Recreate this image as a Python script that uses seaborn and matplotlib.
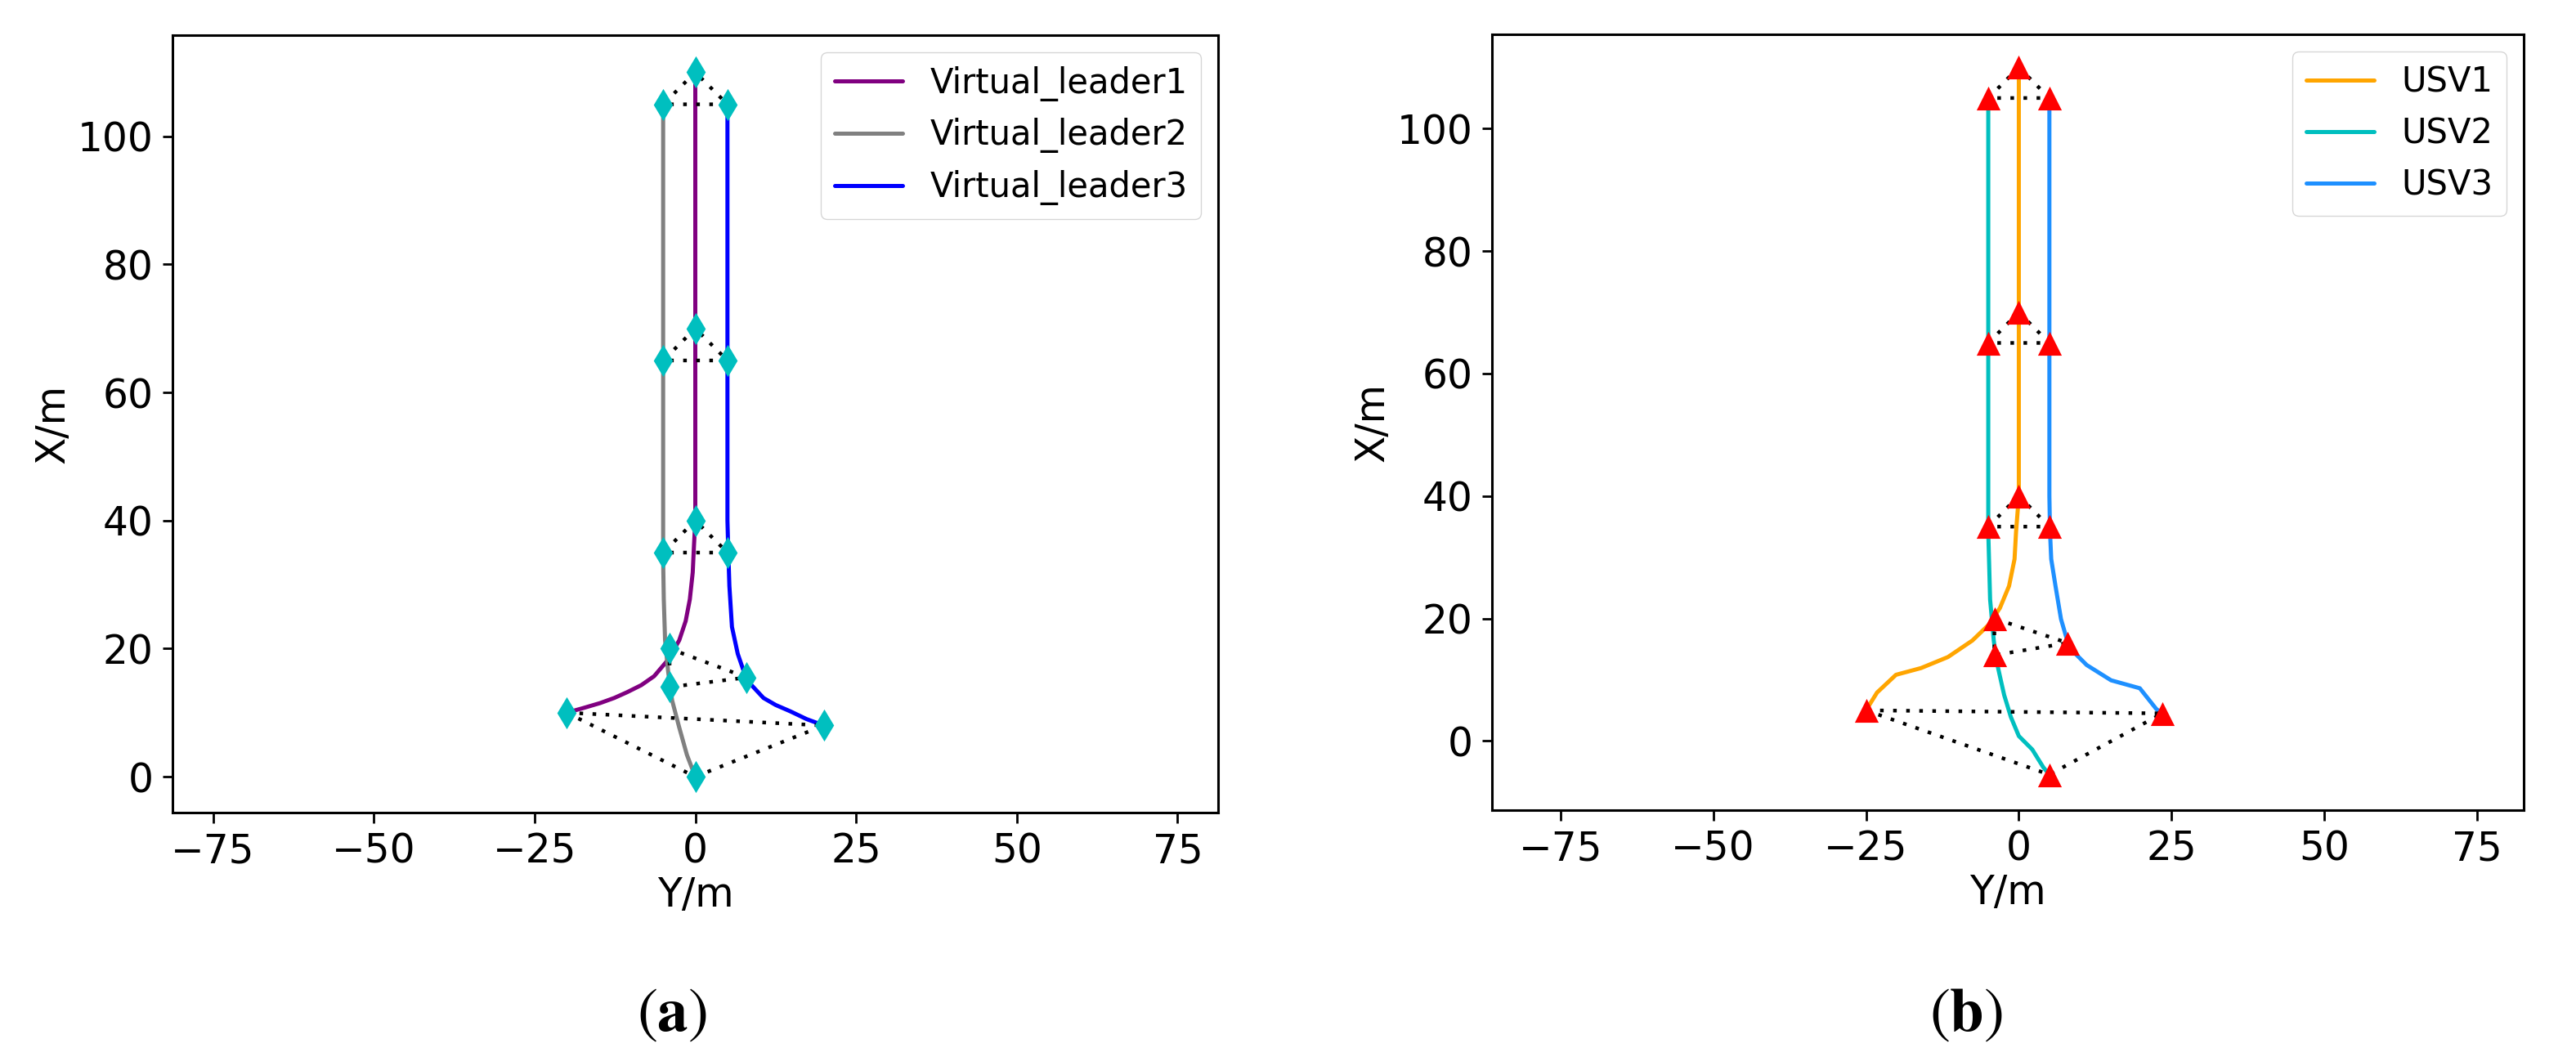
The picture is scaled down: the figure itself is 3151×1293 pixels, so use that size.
import matplotlib
matplotlib.use('Agg')
import matplotlib.pyplot as plt
import pandas as pd
import seaborn as sns

# ---- (a) virtual leader trajectories (Y lateral, X forward, metres)
leader1_y = [-20, -17.5, -14.8, -12.6, -10.6, -8.4, -6.4, -4.2, -2.5, -1.5, -0.85, -0.4, -0.2, 0, 0]
leader1_x = [10, 10.7, 11.5, 12.3, 13.2, 14.3, 15.7, 18.3, 21.3, 24.3, 27.7, 31.9, 36.2, 40, 110]
leader2_y = [0, -1.3, -2.5, -3.6, -4.2, -4.7, -4.9, -5, -5]
leader2_x = [0, 3.4, 7.7, 11.9, 16.2, 21.3, 27.7, 33.8, 105]
leader3_y = [20, 17.3, 14.8, 12.5, 10.6, 8.0, 6.6, 5.7, 5.3, 5.1, 5, 5]
leader3_x = [8, 9.0, 10.2, 11.2, 12.3, 15.1, 19.2, 23.4, 29.8, 36.2, 40, 105]

# formation snapshots (one entry per snapshot)
lead1_mark_y = [-20, -4, 0, 0, 0]
lead1_mark_x = [10, 20, 40, 70, 110]
lead2_mark_y = [0, -4, -5, -5, -5]
lead2_mark_x = [0, 14, 35, 65, 105]
lead3_mark_y = [20, 8, 5, 5, 5]
lead3_mark_x = [8, 15.5, 35, 65, 105]

# ---- (b) USV trajectories
usv1_y = [-25, -23.2, -20.1, -16.0, -11.6, -7.6, -4.9, -3.1, -1.6, -0.7, -0.45, 0, 0]
usv1_x = [5, 7.9, 10.8, 11.9, 13.7, 16.4, 19.0, 21.7, 25.3, 29.7, 34.2, 40, 110]
usv2_y = [5, 4.0, 2.2, 0, -1.3, -2.4, -3.1, -3.7, -4.1, -4.7, -5, -5]
usv2_x = [-5.5, -4.3, -1.4, 0.8, 3.9, 7.5, 10.6, 13.3, 16.4, 23.1, 34.2, 105]
usv3_y = [23.5, 22.5, 19.8, 15.1, 11.1, 8.9, 7.8, 6.9, 6.0, 5.3, 5.1, 5, 5]
usv3_x = [4.5, 5.2, 8.6, 9.9, 12.4, 14.6, 16.8, 19.9, 25.3, 29.7, 34.2, 40, 105]

usv1_mark_y = [-25, -4, 0, 0, 0]
usv1_mark_x = [5, 20, 40, 70, 110]
usv2_mark_y = [5, -4, -5, -5, -5]
usv2_mark_x = [-5.5, 14, 35, 65, 105]
usv3_mark_y = [23.5, 8, 5, 5, 5]
usv3_mark_x = [4.5, 16, 35, 65, 105]

x_ticks = [-75, -50, -25, 0, 25, 50, 75]
y_ticks = [0, 20, 40, 60, 80, 100]

sns.set_style('ticks', rc={'axes.edgecolor': 'black', 'text.color': 'black',
                           'xtick.color': 'black', 'ytick.color': 'black',
                           'axes.labelcolor': 'black'})
plt.rcParams['font.family'] = ['DejaVu Sans']
plt.rcParams['mathtext.fontset'] = 'stix'
plt.rcParams['axes.linewidth'] = 2.2
plt.rcParams['xtick.major.width'] = 2.0
plt.rcParams['ytick.major.width'] = 2.0
plt.rcParams['xtick.major.size'] = 9
plt.rcParams['ytick.major.size'] = 9
plt.rcParams['xtick.major.pad'] = 8
plt.rcParams['ytick.major.pad'] = 8


def draw_panel(ax, tracks, snaps, marker, marker_color, marker_size):
    for name, ys, xs, color in tracks:
        df = pd.DataFrame({'Y': ys, 'X': xs})
        sns.lineplot(data=df, x='Y', y='X', sort=False, estimator=None,
                     color=color, lw=3.6, label=name, ax=ax, zorder=2)
    # dotted formation triangles between the agents at each snapshot
    for i in range(len(snaps[0][0])):
        ty = [s[0][i] for s in snaps] + [snaps[0][0][i]]
        tx = [s[1][i] for s in snaps] + [snaps[0][1][i]]
        ax.plot(ty, tx, color='black', lw=3.2, ls=(0, (1, 2.6)), zorder=3)
    for ys, xs in snaps:
        sns.scatterplot(x=ys, y=xs, marker=marker, s=marker_size ** 2,
                        color=marker_color, linewidth=0, zorder=4, ax=ax)
    ax.set_xticks(x_ticks)
    ax.set_yticks(y_ticks)
    ax.tick_params(labelsize=35)
    ax.set_xlabel('Y/m', fontsize=35)
    ax.set_ylabel('X/m', fontsize=35)
    ax.legend(loc='upper right', fontsize=30)


W, H = 3151, 1293
fig = plt.figure(figsize=(W / 100, H / 100), dpi=100)
ax1 = fig.add_axes([211 / W, 1 - 994 / H, (1490 - 211) / W, (994 - 43) / H])
ax2 = fig.add_axes([1825 / W, 1 - 991 / H, (3087 - 1825) / W, (991 - 42) / H])

draw_panel(ax1,
           [('Virtual_leader1', leader1_y, leader1_x, 'purple'),
            ('Virtual_leader2', leader2_y, leader2_x, 'gray'),
            ('Virtual_leader3', leader3_y, leader3_x, 'blue')],
           [(lead1_mark_y, lead1_mark_x), (lead2_mark_y, lead2_mark_x),
            (lead3_mark_y, lead3_mark_x)],
           'd', 'c', 20)
ax1.set_xlim(-81.3, 81.3)
ax1.set_ylim(-5.6, 115.8)

draw_panel(ax2,
           [('USV1', usv1_y, usv1_x, 'orange'),
            ('USV2', usv2_y, usv2_x, 'c'),
            ('USV3', usv3_y, usv3_x, 'dodgerblue')],
           [(usv1_mark_y, usv1_mark_x), (usv2_mark_y, usv2_mark_x),
            (usv3_mark_y, usv3_mark_x)],
           '^', 'red', 21)
ax2.set_xlim(-86.2, 82.6)
ax2.set_ylim(-11.3, 115.4)

fig.text(822 / W, 1 - 1240 / H, r'$(\mathbf{a})$', fontsize=54, ha='center', va='center')
fig.text(2405 / W, 1 - 1240 / H, r'$(\mathbf{b})$', fontsize=54, ha='center', va='center')

fig.savefig('out.png', dpi=100, facecolor='white')
